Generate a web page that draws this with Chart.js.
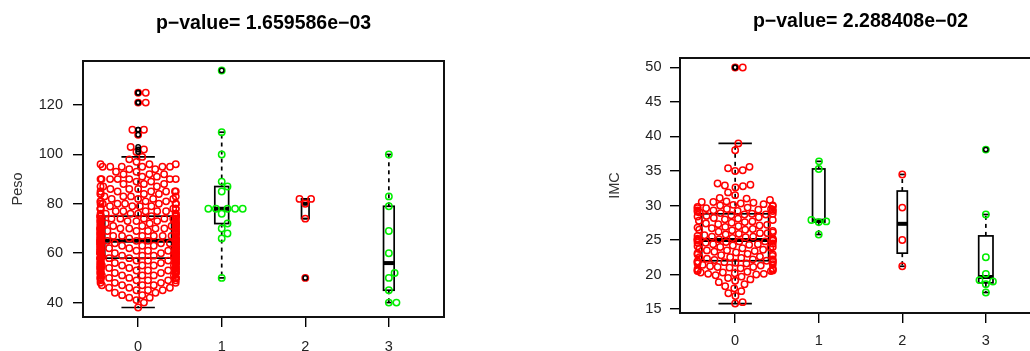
<!DOCTYPE html>
<html>
<head>
<meta charset="utf-8">
<script src="https://cdn.jsdelivr.net/npm/chart.js@4.4.1/dist/chart.umd.min.js"></script>
<style>
  html, body { margin: 0; padding: 0; background: #fff; }
  body { width: 1030px; height: 351px; overflow: hidden; position: relative; }
  canvas { position: absolute; top: 0; }
  #chartPeso { left: 0; }
  #chartImc { left: 597px; }
</style>
</head>
<body>
<canvas id="chartPeso" width="520" height="351"></canvas>
<canvas id="chartImc" width="520" height="351"></canvas>
<script>
// ---------- data ----------
const groupLabels = ['0', '1', '2', '3'];
const groupTicks = [0, 1, 2, 3];

// Peso, group 0 : values and how many times each one appears
const peso0Values = [38, 40, 41, 42, 43, 44, 45, 46, 47, 48, 49,
  50, 51, 52, 53, 54, 55, 56, 57,
  58, 59, 60, 61, 62, 63, 64,
  65,
  66, 67, 68, 69, 70, 71, 72, 73, 74,
  75,
  76, 77, 78, 79, 80, 81, 82, 83, 84, 85, 86, 87, 88, 89, 90, 91, 92, 93, 94, 95, 96, 97, 98, 99,
  101, 102, 103, 108, 110, 121, 125];
const peso0Counts = [1, 1, 1, 2, 2, 2, 3, 3, 4, 4, 5,
  9, 6, 8, 8, 9, 10, 9, 8,
  13, 10, 16, 11, 13, 11, 12,
  18,
  10, 10, 11, 9, 13, 8, 8, 8, 9,
  11,
  6, 5, 6, 4, 8, 4, 4, 4, 4, 6, 3, 3, 3, 2, 7, 2, 3, 2, 2, 6, 3, 1, 1, 1,
  1, 1, 1, 1, 2, 2, 2];
const peso1 = [50, 66, 68, 70, 72, 76, 78, 78, 78, 78, 78, 85, 87, 89, 100, 109, 134];
const peso2 = [50, 74, 80, 82, 82];
const peso3 = [40, 40, 45, 50, 52, 60, 69, 79, 83, 100];

const pesoQ1 = [58, 72, 74, 45];
const pesoMedian = [65, 78, 80, 56];
const pesoQ3 = [75, 87, 82, 79];
const pesoWhiskLo = [38, 50, 74, 40];
const pesoWhiskHi = [99, 109, 82, 100];
const pesoTicks = [40, 60, 80, 100, 120];

// IMC
const imc0 = [
  15.8, 16.0, 16.9, 17.3, 17.6, 18.0, 18.3, 18.6, 18.9, 19.1, 19.3, 19.5, 19.7, 19.9,
  20.0, 20.1, 20.1, 20.2, 20.3, 20.3, 20.4, 20.5, 20.5, 20.6, 20.6, 20.7, 20.8, 20.9, 20.9,
  21.0, 21.1, 21.1, 21.2, 21.3, 21.4, 21.5, 21.6, 21.6, 21.7, 21.8, 21.9, 21.9, 21.9, 21.9,
  22.0, 22.1, 22.2, 22.2, 22.3, 22.4, 22.5, 22.5, 22.6, 22.7, 22.8, 22.9, 22.9,
  23.0, 23.1, 23.2, 23.3, 23.4, 23.5, 23.5, 23.6, 23.7, 23.8, 23.9,
  24.0, 24.0, 24.1, 24.2, 24.3, 24.4, 24.4, 24.5, 24.6, 24.6, 24.7, 24.8, 24.8, 24.9, 24.9,
  25.0, 25.0, 25.0, 25.0, 25.0,
  25.1, 25.2, 25.2, 25.3, 25.4, 25.5, 25.5, 25.6, 25.7, 25.8, 25.9,
  26.0, 26.0, 26.1, 26.2, 26.3, 26.4, 26.5, 26.5, 26.6, 26.7, 26.8, 26.9,
  27.0, 27.1, 27.2, 27.3, 27.4, 27.5, 27.6, 27.7, 27.8, 27.9,
  28.0, 28.1, 28.2, 28.3, 28.4, 28.5, 28.6, 28.7, 28.7, 28.8, 28.8,
  28.9, 29.0, 29.1, 29.2, 29.2, 29.3, 29.3, 29.4, 29.4, 29.5, 29.5, 29.6, 29.6, 29.7, 29.8, 29.9,
  30.0, 30.0, 30.1, 30.2, 30.3, 30.4, 30.5, 30.5, 30.6, 30.8,
  31.0, 31.1, 31.5, 31.9, 32.6, 32.8, 32.9, 33.0, 33.2,
  35.0, 35.1, 35.4, 35.6, 38.0, 39.0, 50.0, 50.0
];
const imc1 = [25.8, 27.6, 27.7, 27.9, 35.3, 36.4];
const imc2 = [21.2, 25.0, 29.7, 34.5];
const imc3 = [17.4, 18.6, 19.0, 19.2, 20.1, 22.5, 28.7, 38.1];

const imcQ1 = [22, 27.6, 23.1, 18.8];
const imcMedian = [25, 27.8, 27.35, 19.65];
const imcQ3 = [28.8, 35.3, 32.1, 25.6];
const imcWhiskLo = [15.8, 25.8, 21.2, 17.4];
const imcWhiskHi = [39, 36.4, 34.5, 28.7];
const imcTicks = [15, 20, 25, 30, 35, 40, 45, 50];

// ---------- style ----------
const FONT = '"Liberation Sans", Arial, Helvetica, sans-serif';
const groupColors = ['#ff0000', '#00ee00', '#ff0000', '#00ee00'];
const POINT_R = 3.2;
const SWARM_D = 7.6;  // distance between point centres, px

// expand value/count pairs into a plain list
function expand(values, counts) {
  const out = [];
  values.forEach((v, i) => { for (let k = 0; k < counts[i]; k++) out.push(v); });
  return out;
}

// beeswarm "swarm" layout (ascending priority), in pixels
function swarm(ypx, d) {
  const order = ypx.map((y, i) => i).sort((a, b) => ypx[b] - ypx[a]);
  const xs = new Array(ypx.length).fill(0);
  const placed = [];
  for (const i of order) {
    const near = [], dxs = [];
    placed.forEach(j => {
      const dy = Math.abs(ypx[j] - ypx[i]);
      if (dy < d) { near.push(j); dxs.push(Math.sqrt(d * d - dy * dy)); }
    });
    const cands = [0];
    near.forEach((j, k) => cands.push(xs[j] + dxs[k]));
    near.forEach((j, k) => cands.push(xs[j] - dxs[k]));
    let best = null;
    for (const c of cands) {
      if (best !== null && Math.abs(c) >= Math.abs(best)) continue;
      if (near.every((j, k) => Math.abs(c - xs[j]) >= dxs[k] - 1e-6)) best = c;
    }
    xs[i] = best;
    placed.push(i);
  }
  return xs;
}

// boxplot drawn R style on top of the scales
function makeBoxPlugin(groups, st) {
  const nMax = Math.max(...groups.map(g => g.length));
  const seg = (ctx, x1, y1, x2, y2) => { ctx.beginPath(); ctx.moveTo(x1, y1); ctx.lineTo(x2, y2); ctx.stroke(); };
  return {
    id: 'rBoxplot',
    beforeDatasetsDraw(chart) {
      const { ctx, scales: { x, y } } = chart;
      const unit = x.getPixelForValue(1) - x.getPixelForValue(0);
      ctx.save();
      ctx.strokeStyle = '#000';
      groups.forEach((vals, g) => {
        const cx = x.getPixelForValue(g);
        const half = 0.4 * Math.sqrt(vals.length / nMax) * unit;
        const yq1 = y.getPixelForValue(st.q1[g]);
        const yq3 = y.getPixelForValue(st.q3[g]);
        const ymd = y.getPixelForValue(st.med[g]);
        const ylo = y.getPixelForValue(st.lo[g]);
        const yhi = y.getPixelForValue(st.hi[g]);
        ctx.lineWidth = 1.7;
        ctx.setLineDash([4, 4]);
        seg(ctx, cx, yq3, cx, yhi);
        seg(ctx, cx, yq1, cx, ylo);
        ctx.setLineDash([]);
        seg(ctx, cx - half / 2, yhi, cx + half / 2, yhi);
        seg(ctx, cx - half / 2, ylo, cx + half / 2, ylo);
        ctx.strokeRect(cx - half, yq3, 2 * half, yq1 - yq3);
        ctx.lineWidth = 4;
        seg(ctx, cx - half, ymd, cx + half, ymd);
      });
      ctx.restore();
    },
    afterDatasetsDraw(chart) {
      const { ctx, chartArea: a, scales: { x, y } } = chart;
      ctx.save();
      // outliers
      ctx.strokeStyle = '#000';
      ctx.lineWidth = 1.5;
      groups.forEach((vals, g) => {
        const cx = x.getPixelForValue(g);
        vals.forEach(v => {
          if (v < st.lo[g] || v > st.hi[g]) {
            ctx.beginPath();
            ctx.arc(cx, y.getPixelForValue(v), 2.2, 0, Math.PI * 2);
            ctx.stroke();
          }
        });
      });
      // frame
      ctx.lineWidth = 2;
      ctx.strokeStyle = '#111';
      ctx.strokeRect(a.left, a.top, a.right - a.left, a.bottom - a.top);
      ctx.restore();
    }
  };
}

function makePanel(canvasId, groups, st, yTicks, yTitle, mainTitle, geom) {
  const all = [].concat(...groups);
  const lo = Math.min(...all), hi = Math.max(...all);
  const ext = (hi - lo) * 0.04;

  const tickFont = { family: FONT, size: 14.5 };
  const grid = { display: true, drawOnChartArea: false, drawTicks: true, tickLength: 10, color: '#000', lineWidth: 1.4 };

  const chart = new Chart(document.getElementById(canvasId), {
    type: 'scatter',
    data: {
      datasets: groups.map((vals, g) => ({
        data: vals.map(v => ({ x: g, y: v })),
        borderColor: groupColors[g],
        backgroundColor: 'rgba(0,0,0,0)',
        borderWidth: 1.5,
        pointRadius: POINT_R,
        pointHoverRadius: POINT_R
      }))
    },
    options: {
      responsive: false,
      animation: false,
      events: [],
      devicePixelRatio: 1,
      layout: { padding: { left: 0, right: 76, top: 0, bottom: 0 } },
      plugins: {
        legend: { display: false },
        tooltip: { enabled: false },
        title: {
          display: true,
          text: mainTitle,
          fullSize: false,
          color: '#000',
          font: { family: FONT, size: 19.5, weight: 'bold' },
          padding: { top: geom.titleTop, bottom: geom.titleBottom }
        }
      },
      scales: {
        x: {
          type: 'linear',
          min: -0.66,
          max: 3.66,
          afterBuildTicks: s => { s.ticks = groupTicks.map(v => ({ value: v })); },
          afterFit: s => { s.height = geom.xHeight; },
          grid: grid,
          border: { display: false },
          ticks: {
            autoSkip: false,
            maxRotation: 0,
            color: '#222',
            font: tickFont,
            padding: geom.xPad,
            callback: v => groupLabels[v]
          }
        },
        y: {
          type: 'linear',
          min: lo - ext,
          max: hi + ext,
          afterBuildTicks: s => { s.ticks = yTicks.map(v => ({ value: v })); },
          afterFit: s => { s.width = 83; },
          grid: grid,
          border: { display: false },
          title: {
            display: true,
            text: yTitle,
            color: '#333',
            font: { family: FONT, size: 14.5 },
            padding: { top: 9, bottom: 0 }
          },
          ticks: {
            autoSkip: false,
            color: '#222',
            font: tickFont,
            padding: geom.yPad
          }
        }
      }
    },
    plugins: [makeBoxPlugin(groups, st)]
  });

  // spread the points sideways like beeswarm(corral = "gutter")
  const xs = chart.scales.x, ys = chart.scales.y;
  const unit = xs.getPixelForValue(1) - xs.getPixelForValue(0);
  const lim = 0.45 * unit;
  groups.forEach((vals, g) => {
    const off = swarm(vals.map(v => ys.getPixelForValue(v)), SWARM_D);
    chart.data.datasets[g].data = vals.map((v, i) => ({
      x: g + Math.max(-lim, Math.min(lim, off[i])) / unit,
      y: v
    }));
  });
  chart.update('none');
  return chart;
}

makePanel('chartPeso',
  [expand(peso0Values, peso0Counts), peso1, peso2, peso3],
  { q1: pesoQ1, med: pesoMedian, q3: pesoQ3, lo: pesoWhiskLo, hi: pesoWhiskHi },
  pesoTicks, 'Peso', 'p\u2212value= 1.659586e\u221203',
  { titleTop: 12, titleBottom: 25.6, xHeight: 34, xPad: 11.5, yPad: 10 });

makePanel('chartImc',
  [imc0, imc1, imc2, imc3],
  { q1: imcQ1, med: imcMedian, q3: imcQ3, lo: imcWhiskLo, hi: imcWhiskHi },
  imcTicks, 'IMC', 'p\u2212value= 2.288408e\u221202',
  { titleTop: 10, titleBottom: 24.6, xHeight: 38, xPad: 9.5, yPad: 8.5 });
</script>
</body>
</html>
